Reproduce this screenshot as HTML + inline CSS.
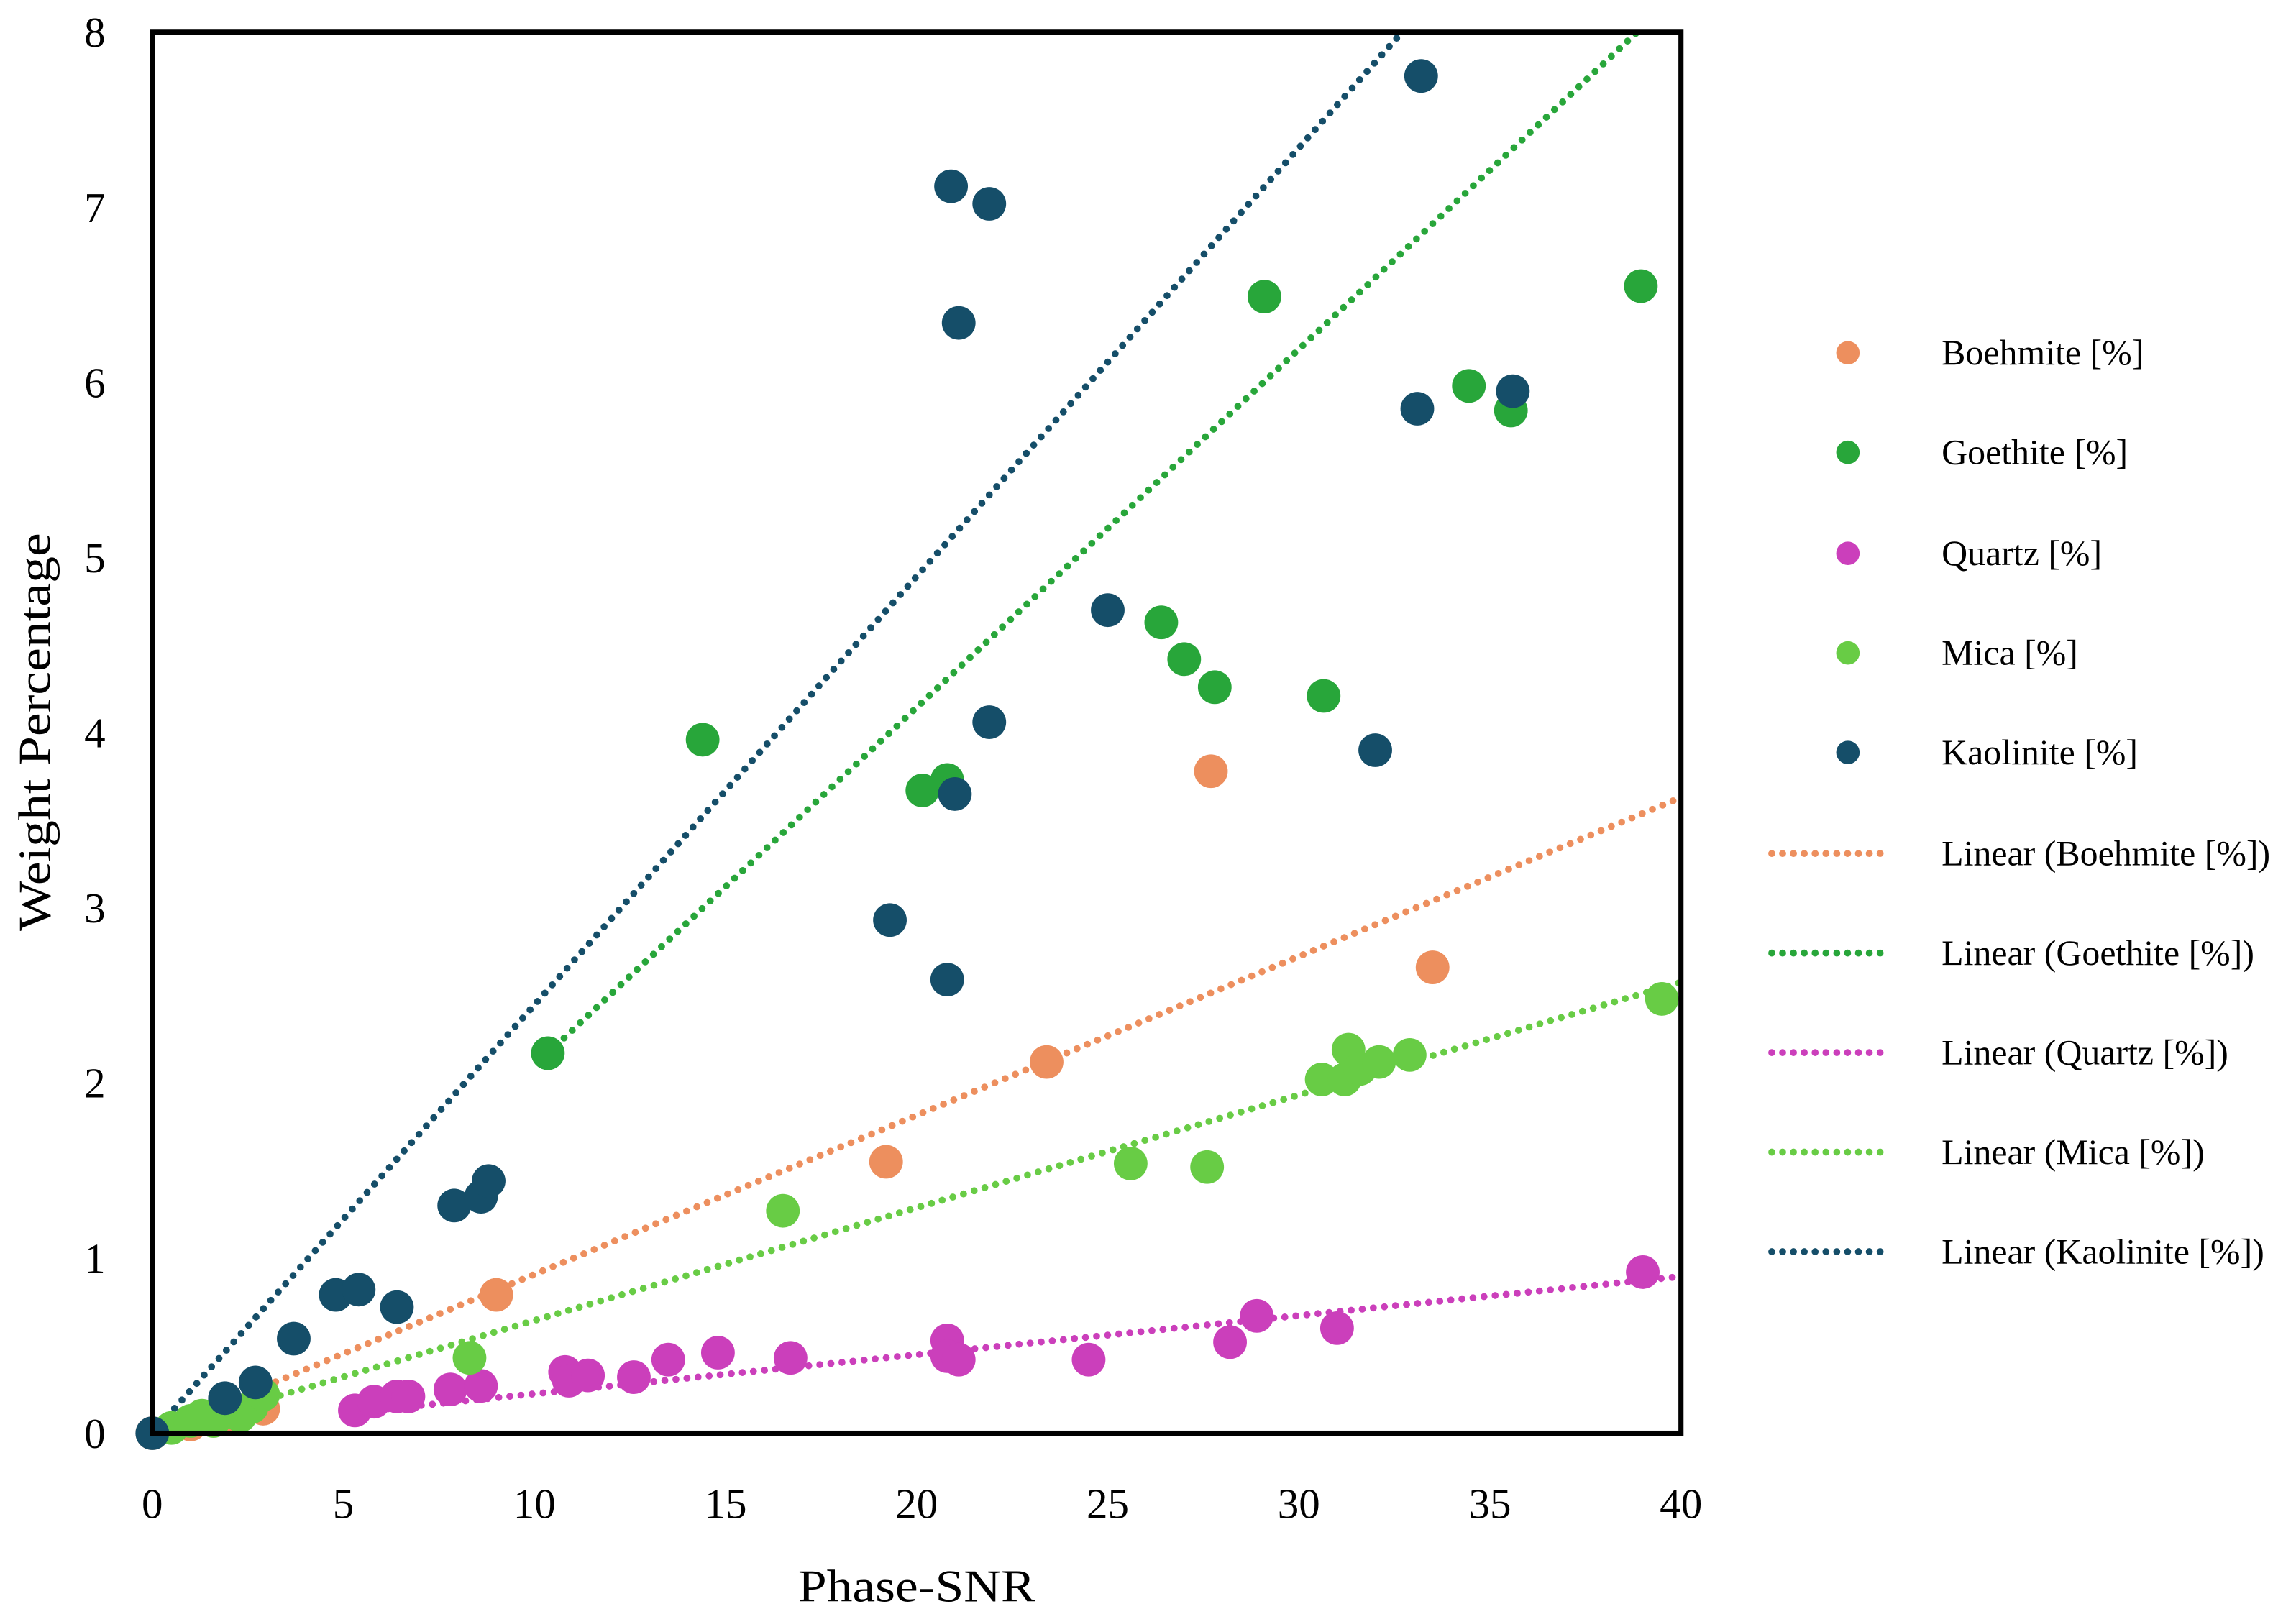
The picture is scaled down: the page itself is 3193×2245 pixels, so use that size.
<!DOCTYPE html>
<html><head><meta charset="utf-8"><style>
html,body{margin:0;padding:0;background:#fff;}
svg{display:block;}
text{font-family:"Liberation Serif",serif;fill:#000;}
</style></head><body>
<svg id="chart" width="3193" height="2245" viewBox="0 0 1568 1102.5" xmlns="http://www.w3.org/2000/svg">
<g id="trends"></g>
<g id="points"></g>
<rect x="104" y="22" width="1044" height="957" fill="none" stroke="#000" stroke-width="3.5"/>
<g id="xticks"></g>
<g id="yticks"></g>
<text x="626" y="1094" font-size="31" text-anchor="middle" textLength="162" lengthAdjust="spacingAndGlyphs">Phase-SNR</text>
<text x="0" y="0" font-size="31" text-anchor="middle" textLength="272" lengthAdjust="spacingAndGlyphs" transform="translate(34,500) rotate(-90)">Weight Percentage</text>
<g id="legend"></g>
</svg>
<script>
const xTicks=[0,5,10,15,20,25,30,35,40];
const yTicks=[0,1,2,3,4,5,6,7,8];
const seriesNames=["Boehmite [%]","Goethite [%]","Quartz [%]","Mica [%]","Kaolinite [%]"];
const seriesColors=["#ed8f5e","#28a63a","#cb3fbb","#68cc45","#154e69"];
const boehmiteX=[0,1,2,2.9,9.0,19.2,23.4,27.7,33.5];
const boehmiteY=[0,0.05,0.1,0.14,0.79,1.55,2.12,3.78,2.66];
const goethiteX=[10.35,14.4,20.15,20.8,26.4,27.0,27.8,29.1,30.65,34.45,35.55,38.95];
const goethiteY=[2.17,3.96,3.67,3.73,4.63,4.42,4.26,6.49,4.21,5.98,5.84,6.55];
const quartzX=[5.3,5.8,6.4,6.7,7.8,8.6,10.8,10.9,11.4,12.6,13.5,14.8,16.7,20.8,20.8,21.1,24.5,28.2,28.9,31.0,39.0];
const quartzY=[0.13,0.18,0.21,0.21,0.25,0.27,0.35,0.3,0.33,0.32,0.42,0.46,0.43,0.53,0.44,0.42,0.42,0.52,0.67,0.6,0.92];
const micaX=[0.5,1.0,1.3,1.6,2.0,2.3,2.6,2.9,8.3,16.5,25.6,27.6,30.6,31.2,31.3,31.6,32.1,32.9,39.5];
const micaY=[0.03,0.07,0.1,0.07,0.12,0.1,0.15,0.22,0.43,1.27,1.54,1.52,2.02,2.02,2.19,2.08,2.12,2.16,2.48];
const kaoliniteX=[0,1.9,2.7,3.7,4.8,5.4,6.4,7.9,8.6,8.8,19.3,20.8,21.0,20.9,21.1,21.9,21.9,25.0,32.0,33.1,33.2,35.6];
const kaoliniteY=[0,0.2,0.29,0.54,0.79,0.82,0.72,1.3,1.35,1.44,2.93,2.59,3.65,7.12,6.34,7.02,4.06,4.7,3.9,5.85,7.75,5.95];
const trendBoehmite=[0,0,40,3.63];
const trendGoethite=[10.35,2.17,38.85,8];
const trendQuartz=[5.3,0.12,40,0.895];
const trendMica=[0,0,40,2.575];
const trendKaolinite=[0,0,32.7,8];

const NS="http://www.w3.org/2000/svg";
const X0=104,X1=1148,Y0=979,Y1=22;
function sx(v){return X0+(v-0)/40*(X1-X0);}
function sy(v){return Y0-(v-0)/8*(Y0-Y1);}
function mk(tag,attrs,parent){const e=document.createElementNS(NS,tag);for(const k in attrs)e.setAttribute(k,attrs[k]);parent.appendChild(e);return e;}

const xt=document.getElementById('xticks');
xTicks.forEach(v=>{const t=mk('text',{x:sx(v),y:1037,'font-size':29,'text-anchor':'middle'},xt);


t.textContent=v;});
const yt=document.getElementById('yticks');
yTicks.forEach(v=>{const t=mk('text',{x:72,y:sy(v)+10,'font-size':29,'text-anchor':'end'},yt);


t.textContent=v;});

const trends=[trendBoehmite,trendGoethite,trendQuartz,trendMica,trendKaolinite];
const tg=document.getElementById('trends');
trends.forEach((tr,i)=>{const l=mk('line',{x1:sx(tr[0]),y1:sy(tr[1]),x2:sx(tr[2]),y2:sy(tr[3]),stroke:seriesColors[i],'stroke-width':4.8,'stroke-linecap':'round','stroke-dasharray':'0 7.6'},tg);

});

const xs=[boehmiteX,goethiteX,quartzX,micaX,kaoliniteX];
const ys=[boehmiteY,goethiteY,quartzY,micaY,kaoliniteY];
const pg=document.getElementById('points');
xs.forEach((arr,i)=>{arr.forEach((xv,j)=>{const c=mk('circle',{cx:sx(xv),cy:sy(ys[i][j]),r:11.5,fill:seriesColors[i]},pg);

});});

const lg=document.getElementById('legend');
const rowY=[241,309,378,446,514,583,651,719,787,855];
seriesNames.forEach((n,i)=>{
 const c=mk('circle',{cx:1262,cy:rowY[i],r:8,fill:seriesColors[i]},lg);
 
 
 const t=mk('text',{x:1326,y:rowY[i]+8,'font-size':24.5},lg);
 
 
 t.textContent=n;
});
seriesNames.forEach((n,i)=>{
 const y=rowY[i+5];
 const l=mk('line',{x1:1210,y1:y,x2:1284,y2:y,stroke:seriesColors[i],'stroke-width':4.8,'stroke-linecap':'round','stroke-dasharray':'0 7.4'},lg);
 
 
 const t=mk('text',{x:1326,y:y+8,'font-size':24.5},lg);
 
 
 t.textContent='Linear ('+n+')';
});
</script>
</body></html>
